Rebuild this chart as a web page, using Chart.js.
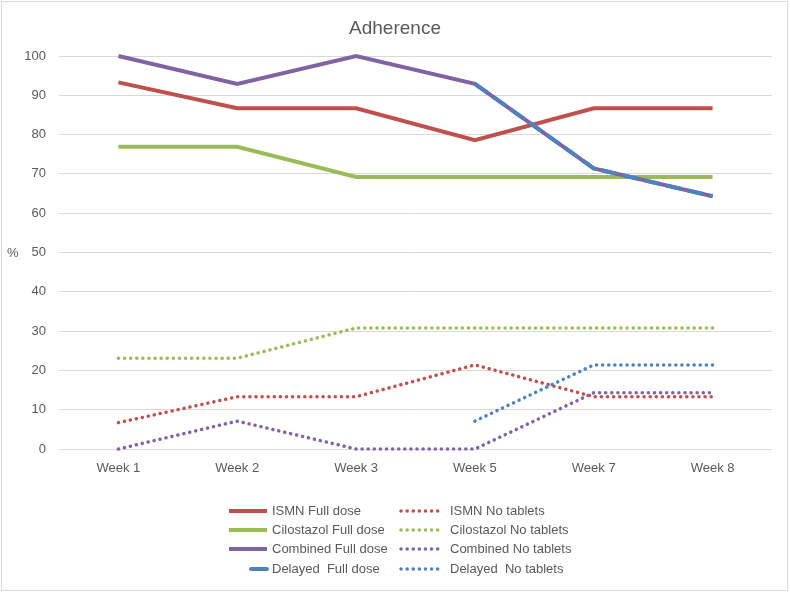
<!DOCTYPE html>
<html>
  <head>
    <meta charset="UTF-8" />
    <title>Adherence</title>
    <script src="https://cdn.jsdelivr.net/npm/chart.js@4.4.1/dist/chart.umd.min.js"></script>
    <style type="text/css">
      body{ margin:0; background:#fff; }
      #wrap{ width:790px; height:593px; }
    </style>
  </head>
  <body>
    <div id="wrap">
      <canvas id="adherence" width="790" height="593"></canvas>
    </div>

    <script>
      // data (%)
      var weeks = ['Week 1', 'Week 2', 'Week 3', 'Week 5', 'Week 7', 'Week 8'];
      var yTicks = [0, 10, 20, 30, 40, 50, 60, 70, 80, 90, 100];

      var ismnFull       = [93.3, 86.7, 86.7, 78.6, 86.7, 86.7];
      var cilostazolFull = [76.9, 76.9, 69.2, 69.2, 69.2, 69.2];
      var combinedFull   = [100, 92.9, 100, 92.9, 71.4, 64.3];
      var delayedFull    = [null, null, null, 92.9, 71.4, 64.3];

      var ismnNone       = [6.7, 13.3, 13.3, 21.4, 13.3, 13.3];
      var cilostazolNone = [23.1, 23.1, 30.8, 30.8, 30.8, 30.8];
      var combinedNone   = [0, 7.1, 0, 0, 14.3, 14.3];
      var delayedNone    = [null, null, null, 7.1, 21.4, 21.4];

      var RED = '#C0504D', GREEN = '#9BBB59', PURPLE = '#8064A2', BLUE = '#4F81BD';
      var GREY = '#595959';
      var FONT = '"Liberation Sans", Arial, sans-serif';

      function solid(label, data, color, order){
        return { label: label, data: data, borderColor: color, backgroundColor: color,
                 borderWidth: 4, pointRadius: 0, tension: 0, order: order, clip: false };
      }
      function dotted(label, data, color, order){
        return { label: label, data: data, borderColor: color, backgroundColor: color,
                 borderWidth: 3.5, borderDash: [0.1, 6], borderCapStyle: 'round',
                 pointRadius: 0, tension: 0, order: order, clip: false };
      }

      var dsDelayedFull = solid('Delayed  Full dose', delayedFull, BLUE, 0);
      dsDelayedFull.borderDash = [16, 6];

      var datasets = [
        solid('ISMN Full dose', ismnFull, RED, 3),
        dotted('ISMN No tablets', ismnNone, RED, 5),
        solid('Cilostazol Full dose', cilostazolFull, GREEN, 4),
        dotted('Cilostazol No tablets', cilostazolNone, GREEN, 6),
        solid('Combined Full dose', combinedFull, PURPLE, 2),
        dotted('Combined No tablets', combinedNone, PURPLE, 7),
        dsDelayedFull,
        dotted('Delayed  No tablets', delayedNone, BLUE, 1)
      ];

      // title, "%" label, two-column legend and frame
      var extras = {
        id: 'extras',
        afterDraw: function(chart){
          var ctx = chart.ctx;
          ctx.save();
          ctx.strokeStyle = '#d9d9d9';
          ctx.lineWidth = 1;
          ctx.strokeRect(1.5, 1.5, 786, 589);

          ctx.fillStyle = GREY;
          ctx.textBaseline = 'middle';
          ctx.textAlign = 'center';
          ctx.font = '19px ' + FONT;
          ctx.fillText('Adherence', 395, 29);

          ctx.font = '13px ' + FONT;
          ctx.textAlign = 'left';
          ctx.fillText('%', 7, 253);

          var rows = [511, 530, 549, 569];
          var cols = [{ x0: 229, x1: 267, tx: 272 }, { x0: 401, x1: 441, tx: 450 }];
          chart.data.datasets.forEach(function(ds, i){
            var c = cols[i % 2], y = rows[Math.floor(i / 2)];
            ctx.save();
            ctx.strokeStyle = ds.borderColor;
            ctx.lineWidth = ds.borderWidth;
            ctx.lineCap = ds.borderCapStyle || 'butt';
            if (ds.borderDash) ctx.setLineDash(ds.borderDash);
            var x0 = c.x0;
            if (ds === dsDelayedFull) { x0 = c.x0 + 22; ctx.setLineDash([]); ctx.lineCap = 'round'; }
            ctx.beginPath();
            ctx.moveTo(x0, y);
            ctx.lineTo(c.x1, y);
            ctx.stroke();
            ctx.restore();
            ctx.fillStyle = GREY;
            ctx.fillText(ds.label, c.tx, y);
          });
          ctx.restore();
        }
      };

      new Chart(document.getElementById('adherence'), {
        type: 'line',
        data: { labels: weeks, datasets: datasets },
        plugins: [extras],
        options: {
          responsive: false,
          animation: false,
          layout: { padding: { left: 0, right: 18, top: 56, bottom: 0 } },
          plugins: {
            legend: { display: false },
            title: { display: false },
            tooltip: { enabled: false }
          },
          scales: {
            x: {
              offset: true,
              grid: { display: false, drawTicks: false },
              border: { display: false },
              ticks: { color: GREY, font: { family: FONT, size: 13 }, padding: 12 },
              afterFit: function(scale){ scale.height = 144; }
            },
            y: {
              min: 0,
              max: 100,
              afterBuildTicks: function(scale){ scale.ticks = yTicks.map(function(v){ return { value: v }; }); },
              grid: { color: '#d9d9d9', lineWidth: 1, drawTicks: false },
              border: { display: false },
              ticks: { color: GREY, font: { family: FONT, size: 13 }, padding: 13 },
              afterFit: function(scale){ scale.width = 59; }
            }
          }
        }
      });
    </script>
  </body>
</html>
